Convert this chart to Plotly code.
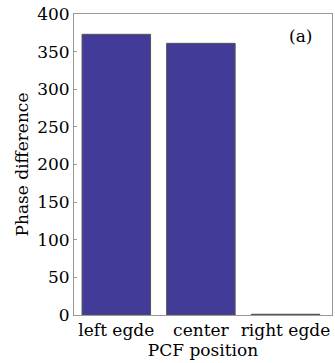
import plotly.graph_objects as go

categories = ["left egde", "center", "right egde"]
values = [373, 361, 1]
y_ticks = [0, 50, 100, 150, 200, 250, 300, 350, 400]

font_family = "DejaVu Serif, Liberation Serif, serif"

fig = go.Figure()
fig.add_trace(go.Bar(
    x=categories, y=values, width=0.81,
    marker=dict(color="#433b98", line=dict(color="#555555", width=1)),
))
fig.update_layout(
    width=335, height=363,
    margin=dict(l=74, r=3, t=14, b=48),
    paper_bgcolor="white", plot_bgcolor="white",
    showlegend=False,
    font=dict(family=font_family, size=17, color="#000000"),
    annotations=[dict(text="(a)", x=0.93, y=0.927, xref="paper", yref="paper",
                      xanchor="right", yanchor="middle", showarrow=False,
                      font=dict(size=17, family=font_family, color="#000000"))],
)
fig.update_xaxes(
    range=[-0.5, 2.55], showline=True, linecolor="#999999", mirror=True,
    ticks="", title=dict(text="PCF position", standoff=0, font=dict(size=17)),
    tickfont=dict(size=17),
)
fig.update_yaxes(
    range=[0, 400], tickvals=y_ticks, showline=True, linecolor="#999999",
    mirror=True, showgrid=False, ticks="inside", ticklen=3, tickcolor="#999999",
    title=dict(text="Phase difference", standoff=4, font=dict(size=17)),
    tickfont=dict(size=17), zeroline=False,
)
fig.write_html("out.html")
